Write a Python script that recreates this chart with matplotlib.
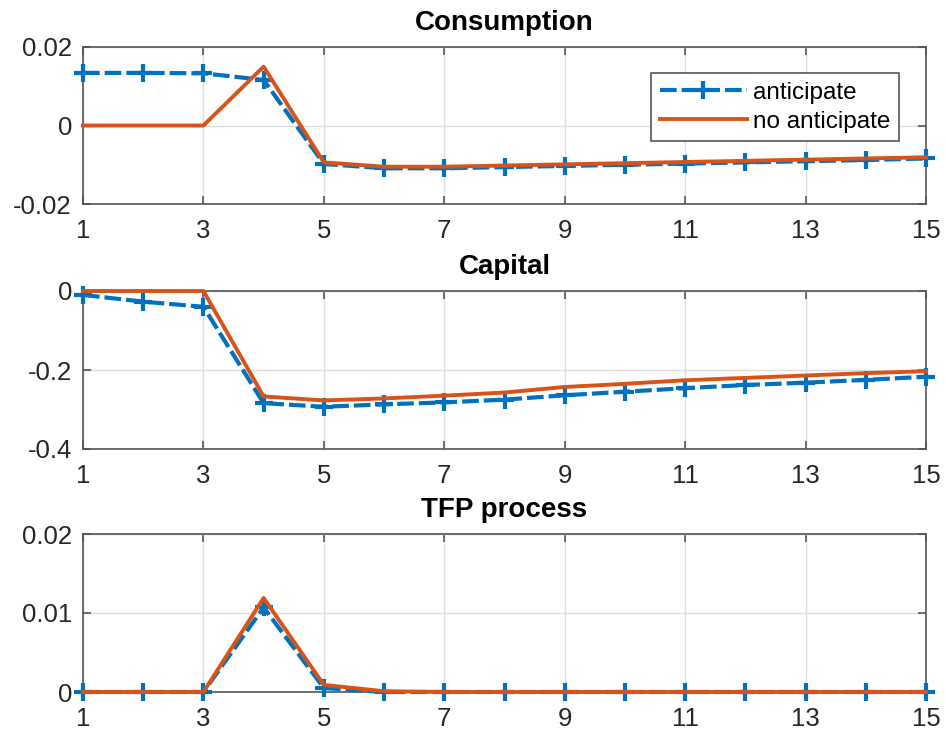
import matplotlib.pyplot as plt
import numpy as np

plt.rcParams['font.family'] = ['Liberation Sans', 'DejaVu Sans']

# ==================== DATA ====================
periods = np.arange(1, 16)

cons_ant = [0.0134, 0.0134, 0.0133, 0.0116, -0.0098, -0.0109, -0.0109, -0.0106,
            -0.0103, -0.0100, -0.0097, -0.0094, -0.0091, -0.0088, -0.0084]
cons_no = [0.0, 0.0, 0.0, 0.0150, -0.0094, -0.0105, -0.0105, -0.0102,
           -0.0099, -0.0096, -0.0093, -0.0090, -0.0087, -0.0084, -0.0081]

cap_ant = [-0.010, -0.027, -0.040, -0.284, -0.293, -0.287, -0.282, -0.275,
           -0.264, -0.255, -0.246, -0.238, -0.232, -0.225, -0.217]
cap_no = [0.0, 0.0, 0.0, -0.267, -0.277, -0.272, -0.265, -0.257,
          -0.243, -0.235, -0.226, -0.220, -0.214, -0.208, -0.203]

tfp_ant = [0.0, 0.0, 0.0, 0.0107, 0.0005, 0.0, 0.0, 0.0,
           0.0, 0.0, 0.0, 0.0, 0.0, 0.0, 0.0]
tfp_no = [0.0, 0.0, 0.0, 0.0119, 0.0009, 0.0001, 0.0, 0.0,
          0.0, 0.0, 0.0, 0.0, 0.0, 0.0, 0.0]

titles = ['Consumption', 'Capital', 'TFP process']
ylims = [(-0.02, 0.02), (-0.4, 0.0), (0.0, 0.02)]
yticks = [[-0.02, 0, 0.02], [-0.4, -0.2, 0], [0, 0.01, 0.02]]
yticklabels = [['-0.02', '0', '0.02'], ['-0.4', '-0.2', '0'], ['0', '0.01', '0.02']]
xticks = [1, 3, 5, 7, 9, 11, 13, 15]

series = [(cons_ant, cons_no), (cap_ant, cap_no), (tfp_ant, tfp_no)]

blue = '#0072BD'
orange = '#D95319'
axcol = '#555555'

# ==================== PLOT ====================
fig = plt.figure(figsize=(9.46, 7.34), dpi=100)
W, H = 946, 734
boxes = [(47, 204), (291, 449), (534, 692)]
left, right = 83, 926

axes = []
for (top, bot) in boxes:
    ax = fig.add_axes([left / W, 1 - bot / H, (right - left) / W, (bot - top) / H])
    axes.append(ax)

for i, ax in enumerate(axes):
    ant, no = series[i]
    ax.plot(periods, ant, color=blue, linestyle='--', linewidth=3,
            marker='+', markersize=13, markeredgewidth=3, dashes=(4, 1.2),
            label='anticipate', zorder=3, clip_on=False)
    ax.plot(periods, no, color=orange, linewidth=2.8, label='no anticipate', zorder=4,
            clip_on=False)

    ax.set_xlim(1, 15)
    ax.set_ylim(*ylims[i])
    ax.set_xticks(xticks)
    ax.set_yticks(yticks[i])
    ax.set_yticklabels(yticklabels[i])
    ax.set_title(titles[i], fontsize=20, fontweight='bold', pad=12)
    ax.grid(True, color='#dddddd', linewidth=1)
    ax.set_axisbelow(True)
    ax.tick_params(direction='in', top=True, right=True, length=6, width=1.2,
                   colors=axcol, labelsize=18.5, labelcolor='#262626')
    ax.tick_params(axis='x', pad=11)
    ax.tick_params(axis='y', pad=8)
    for s in ax.spines.values():
        s.set_color(axcol)
        s.set_linewidth(1.2)

leg = axes[0].legend(loc='upper right', fontsize=17.5, frameon=True, fancybox=False,
                     bbox_to_anchor=(0.968, 0.834), borderaxespad=0, handlelength=3.6,
                     borderpad=0.35, labelspacing=0.3, handletextpad=0.25)
leg.get_frame().set_edgecolor(axcol)
leg.get_frame().set_linewidth(1.2)
leg.get_frame().set_alpha(1)

plt.savefig('out.png', dpi=100)
